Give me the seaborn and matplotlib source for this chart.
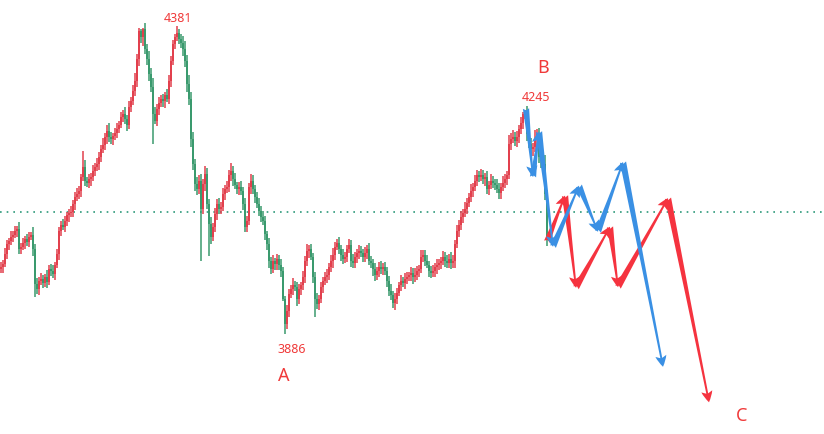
import matplotlib
matplotlib.use('Agg')
import numpy as np
import pandas as pd
import seaborn as sns
from matplotlib import pyplot as plt

# close prices, one bar each
closes = [
    3993, 3998, 4014, 4030, 4035, 4042, 4045, 4051, 4055, 4022,
    4026, 4032, 4038, 4034, 4042, 4045, 4022, 3966, 3958, 3971,
    3974, 3968, 3977, 3969, 3990, 3987, 3982, 3997, 4014, 4051,
    4061, 4058, 4067, 4077, 4080, 4082, 4095, 4106, 4111, 4116,
    4138, 4154, 4132, 4129, 4135, 4138, 4148, 4154, 4159, 4170,
    4183, 4190, 4202, 4212, 4202, 4199, 4204, 4209, 4215, 4222,
    4235, 4240, 4231, 4222, 4251, 4260, 4276, 4293, 4328, 4373,
    4363, 4376, 4344, 4328, 4304, 4283, 4240, 4228, 4248, 4257,
    4264, 4260, 4270, 4264, 4293, 4325, 4352, 4363, 4370, 4360,
    4354, 4344, 4325, 4288, 4264, 4199, 4159, 4127, 4119, 4132,
    4087, 4127, 4143, 4095, 4063, 4042, 4058, 4079, 4095, 4087,
    4090, 4111, 4119, 4122, 4141, 4148, 4135, 4125, 4119, 4122,
    4116, 4095, 4058, 4067, 4122, 4132, 4119, 4106, 4095, 4084,
    4074, 4067, 4046, 4030, 4003, 3990, 4003, 3998, 4006, 3997,
    3987, 3942, 3902, 3923, 3950, 3958, 3964, 3961, 3942, 3958,
    3964, 3977, 4003, 4019, 4022, 4010, 3977, 3942, 3934, 3942,
    3961, 3971, 3977, 3980, 3993, 4003, 4013, 4026, 4032, 4022,
    4013, 4006, 4010, 4022, 4029, 4003, 3999, 4010, 4016, 4019,
    4016, 4010, 4016, 4022, 4003, 3999, 3990, 3980, 3987, 3993,
    3990, 3993, 3987, 3971, 3955, 3948, 3936, 3942, 3952, 3964,
    3971, 3968, 3974, 3977, 3980, 3984, 3977, 3980, 3987, 3990,
    4010, 4013, 4003, 3997, 3987, 3984, 3987, 3993, 3997, 3999,
    4003, 4010, 4003, 3999, 4006, 3999, 4003, 4030, 4051, 4061,
    4074, 4080, 4087, 4096, 4106, 4116, 4122, 4132, 4141, 4138,
    4141, 4135, 4138, 4119, 4125, 4132, 4129, 4125, 4119, 4112,
    4122, 4129, 4135, 4141, 4191, 4199, 4202, 4196, 4202, 4215,
    4225, 4240, 4244, 4207, 4191, 4183, 4186, 4199, 4207, 4170,
    4164, 4159, 4111, 4038,
]
first_open = 3990

# upper / lower shadow lengths (points) of each bar
shadow_up = [
    8, 6, 10, 7, 5, 9, 6, 8, 4, 10,
    6, 8, 5, 9, 7, 4, 12, 8, 10, 6,
    9, 7, 5, 11, 6, 8, 10, 5, 9, 7,
    6, 10, 8, 5, 7, 9, 6, 8, 10, 7,
    5, 9, 11, 6, 8, 7, 10, 6, 9, 8,
    7, 10, 6, 9, 12, 8, 5, 7, 10, 6,
    8, 5, 11, 7, 9, 6, 10, 12, 8, 3,
    2, 2, 10, 8, 12, 9, 14, 11, 7, 9,
    6, 8, 5, 10, 9, 7, 6, 4, 4, 6,
    8, 10, 12, 9, 14, 10, 12, 8, 11, 9,
    10, 8, 12, 9, 7, 11, 6, 9, 8, 10,
    7, 9, 6, 10, 8, 12, 7, 9, 5, 8,
    9, 6, 10, 8, 7, 11, 9, 6, 8, 10,
    7, 9, 8, 6, 10, 7, 9, 5, 8, 6,
    10, 7, 4, 9, 8, 6, 11, 7, 9, 8,
    6, 10, 8, 12, 7, 9, 6, 8, 10, 7,
    9, 6, 8, 10, 7, 9, 11, 8, 6, 9,
    7, 10, 8, 6, 9, 7, 11, 8, 6, 10,
    8, 7, 9, 6, 10, 8, 7, 9, 6, 8,
    10, 7, 9, 6, 8, 11, 7, 9, 8, 6,
    9, 7, 10, 8, 6, 9, 7, 11, 8, 6,
    10, 8, 7, 9, 6, 8, 10, 7, 9, 8,
    6, 9, 7, 10, 8, 12, 9, 7, 10, 8,
    9, 6, 11, 8, 7, 10, 6, 9, 8, 7,
    10, 8, 6, 9, 7, 11, 8, 6, 10, 9,
    7, 10, 8, 6, 14, 9, 11, 8, 10, 7,
    9, 2, 1, 8, 12, 10, 7, 4, 8, 10,
    12, 9, 14, 6,
]
shadow_dn = [
    7, 9, 5, 8, 10, 6, 8, 5, 9, 7,
    8, 6, 10, 7, 9, 5, 11, 4, 8, 9,
    6, 9, 7, 10, 5, 8, 7, 9, 6, 10,
    8, 5, 9, 7, 11, 6, 8, 10, 7, 9,
    10, 6, 8, 7, 9, 11, 6, 8, 7, 10,
    8, 6, 9, 11, 7, 8, 10, 6, 9, 7,
    6, 9, 8, 10, 7, 9, 6, 8, 10, 12,
    9, 14, 8, 10, 12, 9, 11, 5, 8, 10,
    7, 9, 11, 6, 8, 10, 7, 9, 6, 8,
    9, 12, 10, 14, 11, 13, 9, 12, 10, 8,
    6, 9, 11, 8, 5, 12, 7, 9, 10, 8,
    9, 7, 10, 6, 8, 9, 11, 7, 8, 10,
    7, 10, 8, 9, 6, 11, 8, 10, 7, 9,
    8, 6, 10, 9, 12, 8, 7, 10, 9, 8,
    10, 3, 4, 8, 10, 7, 9, 6, 11, 8,
    9, 7, 10, 8, 11, 6, 9, 5, 8, 10,
    7, 9, 6, 10, 8, 7, 11, 9, 6, 8,
    10, 8, 7, 9, 6, 10, 8, 7, 11, 9,
    6, 9, 8, 10, 7, 8, 11, 9, 7, 10,
    8, 9, 6, 10, 8, 7, 9, 11, 8, 6,
    9, 7, 10, 8, 6, 9, 11, 7, 8, 10,
    7, 9, 8, 6, 10, 8, 7, 9, 11, 8,
    9, 6, 10, 8, 7, 9, 8, 11, 6, 9,
    8, 10, 7, 9, 6, 8, 10, 7, 9, 8,
    7, 9, 11, 8, 10, 6, 9, 8, 7, 10,
    9, 7, 8, 10, 6, 9, 7, 8, 10, 9,
    8, 10, 9, 11, 7, 9, 12, 8, 10, 9,
    11, 14, 10, 6,
]

# notable wick extremes (bar index -> price)
wick_highs = {41: 4180, 69: 4378, 88: 4381, 262: 4245, 267: 4214}
wick_lows = {17: 3945, 76: 4191, 100: 4003, 104: 4011, 142: 3886, 157: 3913, 273: 4027}

# forecast paths (bar index, price)
blue_path = [(262.5, 4248), (266, 4138), (269, 4211), (276, 4026),
             (289, 4124), (298.5, 4050), (311, 4162), (331, 3833)]
red_path = [(273, 4034), (282, 4108), (287.5, 3960), (304.5, 4058),
            (308.5, 3961), (333.5, 4104), (354, 3776)]

level = 4082

labels = [("4381", 88.5, 4395, 9), ("4245", 267.5, 4267, 9), ("3886", 145.5, 3862, 9),
          ("A", 141.5, 3820, 13), ("B", 271, 4315, 13), ("C", 370.5, 3755, 13)]

sns.set_theme(style="white")
plt.rcParams['font.family'] = ['Noto Sans', 'DejaVu Sans']

df = pd.DataFrame({"close": closes})
df["open"] = [first_open] + closes[:-1]
df["high"] = df[["open", "close"]].max(axis=1) + np.array(shadow_up)
df["low"] = df[["open", "close"]].min(axis=1) - np.array(shadow_dn)
for k, v in wick_highs.items():
    df.loc[k, "high"] = max(df.loc[k, "high"], v)
for k, v in wick_lows.items():
    df.loc[k, "low"] = min(df.loc[k, "low"], v)
df["idx"] = np.arange(len(df))

up_col = '#e2404d'
dn_col = '#3a9a6e'
df["col"] = np.where(df["close"] >= df["open"], up_col, dn_col)

fig = plt.figure(figsize=(8.24, 4.35), dpi=100)
ax = fig.add_axes([0, 0, 1, 1])

ax.axhline(level, color='#2e9a7a', lw=1.2, ls=(0, (1, 3)), zorder=1)

ax.vlines(df["idx"], df["low"], df["high"], colors=df["col"], lw=1.1, zorder=2)
body = (df["close"] - df["open"]).abs().clip(lower=1.5)
ax.bar(df["idx"], body, bottom=df[["open", "close"]].min(axis=1), width=1.0,
       color=df["col"], lw=0, zorder=3)

def draw_path(path, color):
    for (x0, y0), (x1, y1) in zip(path[:-1], path[1:]):
        ax.annotate('', xy=(x1, y1), xytext=(x0, y0),
                    arrowprops=dict(arrowstyle='fancy,head_length=0.8,head_width=0.8,tail_width=0.45',
                                    color=color, lw=0, shrinkA=0, shrinkB=0,
                                    mutation_scale=10),
                    zorder=5)

draw_path(red_path, '#f5333f')
draw_path(blue_path, '#3a90e4')

for txt, x, y, fs in labels:
    ax.text(x, y, txt, color='#f03a3a', fontsize=fs, ha='center', va='center', zorder=6)

ax.set_xlim(-0.5, 411.5)
ax.set_ylim(3725, 4424)
ax.axis('off')

fig.savefig('out.png', dpi=100)
